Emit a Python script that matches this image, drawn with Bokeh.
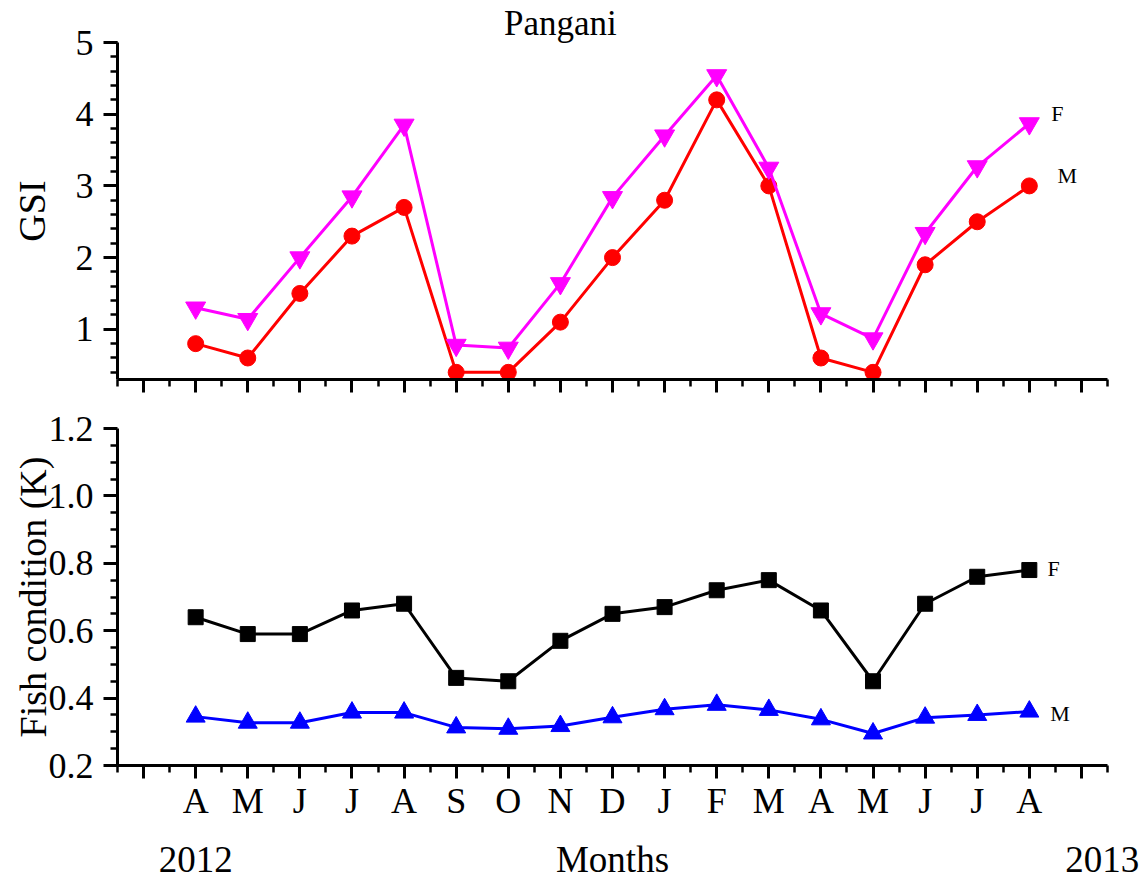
from bokeh.plotting import figure
from bokeh.layouts import column
from bokeh.models import FixedTicker, Range1d, Label, LinearAxis, CustomLabelingPolicy
from bokeh.embed import file_html
from bokeh.resources import INLINE

months = ["A", "M", "J", "J", "A", "S", "O", "N", "D", "J", "F", "M", "A", "M", "J", "J", "A"]
gsi_female = [1.30, 1.14, 2.00, 2.85, 3.85, 0.78, 0.74, 1.64, 2.84, 3.70, 4.54, 3.25, 1.22, 0.87, 2.34, 3.27, 3.87]
gsi_male = [0.80, 0.60, 1.50, 2.30, 2.70, 0.40, 0.40, 1.10, 2.00, 2.80, 4.20, 3.00, 0.60, 0.40, 1.90, 2.50, 3.00]
k_female = [0.64, 0.59, 0.59, 0.66, 0.68, 0.46, 0.45, 0.57, 0.65, 0.67, 0.72, 0.75, 0.66, 0.45, 0.68, 0.76, 0.78]
k_male = [0.345, 0.327, 0.327, 0.357, 0.357, 0.313, 0.309, 0.317, 0.343, 0.367, 0.380, 0.365, 0.337, 0.295, 0.342, 0.350, 0.360]
gsi_yticks = [1, 2, 3, 4, 5]
k_yticks = [0.2, 0.4, 0.6, 0.8, 1.0, 1.2]
k_ylabels = {0.2: "0.2", 0.4: "0.4", 0.6: "0.6", 0.8: "0.8", 1.0: "1.0", 1.2: "1.2"}
year_labels = {0: "2012", 8: "Months", 17.4: "2013"}
title_label = {7: "Pangani"}

FONT = "Liberation Serif"
x = list(range(len(months)))
xmaj = list(range(-1, len(months) + 1))
xmin = [i + 0.5 for i in range(-2, len(months) + 1)]

hide_all = CustomLabelingPolicy(code="""
for (const i of Array.from(indices)) { indices.unset(i) }
return indices
""")
hide_ends = CustomLabelingPolicy(args=dict(skip=[0, len(xmaj) - 1]), code="""
for (const i of skip) { indices.unset(i) }
return indices
""")


def style_axes(p, yticks, yminor):
    for ax in (p.xaxis[0], p.yaxis[0]):
        ax.axis_line_width = 3
        ax.major_tick_line_width = 3
        ax.minor_tick_line_width = 2.5
        ax.major_tick_in = 0
        ax.minor_tick_in = 0
        ax.major_label_text_font = FONT
        ax.major_label_text_font_size = "36px"
        ax.major_label_text_color = "black"
        ax.axis_label_text_font = FONT
        ax.axis_label_text_font_style = "normal"
        ax.axis_label_text_font_size = "38px"
        ax.axis_label_text_color = "black"
    p.xaxis[0].ticker = FixedTicker(ticks=xmaj, minor_ticks=xmin)
    p.xaxis[0].major_tick_out = 13
    p.xaxis[0].minor_tick_out = 7
    p.yaxis[0].ticker = FixedTicker(ticks=yticks, minor_ticks=yminor)
    p.yaxis[0].major_tick_out = 14
    p.yaxis[0].minor_tick_out = 7
    p.yaxis[0].major_label_standoff = 10
    p.xgrid.visible = False
    p.ygrid.visible = False


def text_axis(labels, size, standoff):
    return LinearAxis(ticker=FixedTicker(ticks=list(labels.keys()), minor_ticks=[]),
                      major_label_overrides=labels,
                      axis_line_color=None, major_tick_line_color=None, minor_tick_line_color=None,
                      major_tick_out=0, major_tick_in=0, major_label_standoff=standoff,
                      major_label_text_font=FONT, major_label_text_font_size=size,
                      major_label_text_color="black")


# ---------- top panel: GSI ----------
p1 = figure(width=1146, height=400, x_range=Range1d(-1.5, 17.5), y_range=Range1d(0.3, 5.0),
            output_backend="svg", toolbar_location=None, outline_line_color=None,
            min_border_left=117, min_border_right=39, min_border_top=42, min_border_bottom=21,
            background_fill_color="white", border_fill_color="white")
style_axes(p1, gsi_yticks, [round(0.4 + 0.2 * i, 2) for i in range(24)])
p1.xaxis[0].major_label_text_font_size = "1px"
p1.xaxis[0].major_label_standoff = 0
p1.xaxis[0].major_label_policy = hide_all
p1.yaxis[0].axis_label = "GSI"
p1.yaxis[0].axis_label_standoff = 20
p1.add_layout(text_axis(title_label, "35px", 0), "above")

p1.line(x, gsi_male, line_color="#FF0000", line_width=3)
p1.scatter(x, gsi_male, marker="circle", size=16, fill_color="#FF0000", line_color="#FF0000")
p1.line(x, gsi_female, line_color="#FF00FF", line_width=3)
p1.scatter(x, gsi_female, marker="inverted_triangle", size=20, fill_color="#FF00FF", line_color="#FF00FF")

p1.add_layout(Label(x=16.42, y=4.01, text="F", text_font=FONT, text_font_size="22px",
                    text_align="left", text_baseline="middle", text_color="black"))
p1.add_layout(Label(x=16.54, y=3.15, text="M", text_font=FONT, text_font_size="22px",
                    text_align="left", text_baseline="middle", text_color="black"))

# ---------- bottom panel: K ----------
p2 = figure(width=1146, height=482, x_range=Range1d(-1.5, 17.5), y_range=Range1d(0.2, 1.2),
            output_backend="svg", toolbar_location=None, outline_line_color=None,
            min_border_left=117, min_border_right=39, min_border_top=28, min_border_bottom=117,
            background_fill_color="white", border_fill_color="white")
style_axes(p2, k_yticks, [round(0.25 + 0.05 * i, 2) for i in range(19)])
p2.xaxis[0].major_label_overrides = {i: m for i, m in enumerate(months)}
p2.xaxis[0].major_label_policy = hide_ends
p2.yaxis[0].major_label_overrides = k_ylabels
p2.xaxis[0].major_label_standoff = 2
p2.yaxis[0].axis_label = "Fish condition (K)"
p2.yaxis[0].axis_label_standoff = -8
p2.add_layout(text_axis(year_labels, "37px", 15), "below")

p2.line(x, k_female, line_color="black", line_width=3)
p2.scatter(x, k_female, marker="square", size=15, fill_color="black", line_color="black")
p2.line(x, k_male, line_color="#0000FF", line_width=3)
p2.scatter(x, k_male, marker="triangle", size=19, fill_color="#0000FF", line_color="#0000FF")

p2.add_layout(Label(x=16.35, y=0.785, text="F", text_font=FONT, text_font_size="22px",
                    text_align="left", text_baseline="middle", text_color="black"))
p2.add_layout(Label(x=16.4, y=0.354, text="M", text_font=FONT, text_font_size="22px",
                    text_align="left", text_baseline="middle", text_color="black"))

layout = column(p1, p2, spacing=0)
open("out.html", "w").write(file_html(layout, INLINE))
